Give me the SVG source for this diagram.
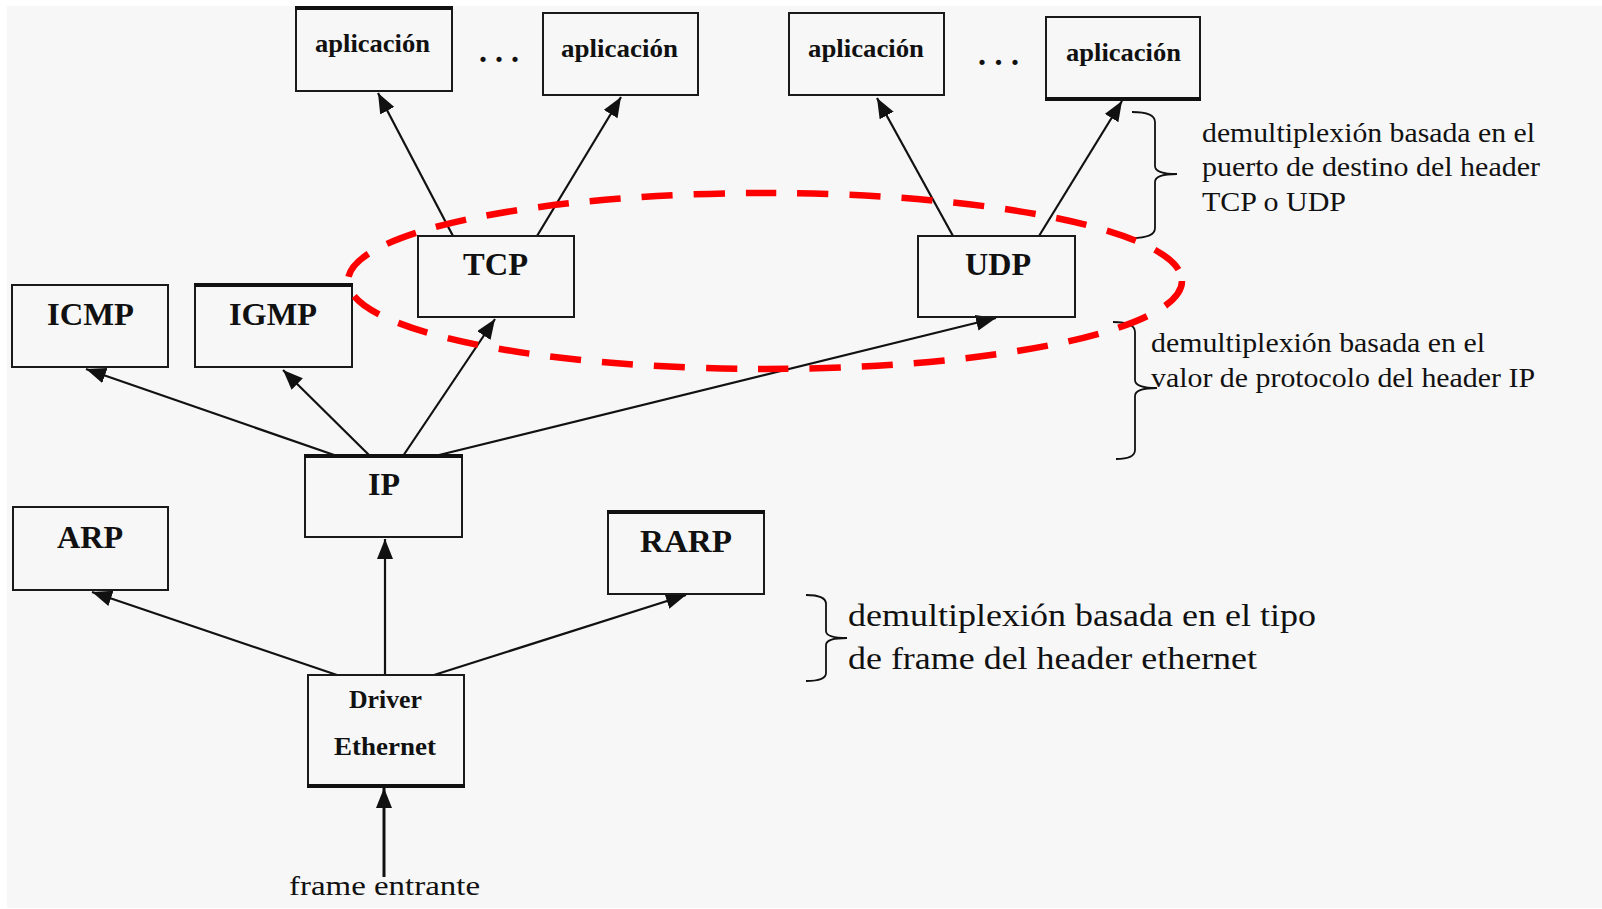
<svg xmlns="http://www.w3.org/2000/svg" width="1602" height="909" viewBox="0 0 1602 909">
<style>
.box{fill:none;stroke:#1a1a1a;stroke-width:2}
.thick{stroke:#111;stroke-width:4;fill:none}
.lbl{font-family:"Liberation Serif",serif;font-weight:bold;fill:#111}
.ann{font-family:"Liberation Serif",serif;fill:#111}
.conn{stroke:#111;stroke-width:2.2;fill:none;marker-end:url(#ah)}
.brace{stroke:#111;stroke-width:1.8;fill:none}
</style>
<defs>
<marker id="ah" markerUnits="userSpaceOnUse" markerWidth="22" markerHeight="18" refX="20" refY="8" orient="auto">
<path d="M0,0 L20,8 L0,16 Z" fill="#111"/>
</marker>
</defs>
<rect x="0" y="0" width="1602" height="909" fill="#ffffff"/>
<rect x="7" y="6" width="1595" height="902" fill="#f7f7f7"/>

<g id="connectors">
<line class="conn" x1="453" y1="236" x2="378" y2="93"/>
<line class="conn" x1="537" y1="236" x2="621" y2="97"/>
<line class="conn" x1="953" y1="236" x2="877" y2="98"/>
<line class="conn" x1="1039" y1="236" x2="1122" y2="101"/>
<line class="conn" x1="337" y1="456" x2="86" y2="369"/>
<line class="conn" x1="370" y1="456" x2="283" y2="370"/>
<line class="conn" x1="403" y1="456" x2="495" y2="319"/>
<line class="conn" x1="435" y1="456" x2="996" y2="318"/>
<line class="conn" x1="337" y1="675" x2="92" y2="592"/>
<line class="conn" x1="385" y1="675" x2="385" y2="539"/>
<line class="conn" x1="434" y1="675" x2="686" y2="595"/>
<line class="conn" style="stroke-width:3" x1="384" y1="877" x2="384" y2="788"/>
</g>

<g id="app1">
<rect class="box" x="296" y="8" width="156" height="83"/>
<line class="thick" x1="295" y1="8" x2="453" y2="8"/>
<text class="lbl" x="315" y="52" font-size="26" textLength="115" lengthAdjust="spacingAndGlyphs">aplicación</text>
</g>
<g id="dots1"><text class="lbl" x="479" y="62" font-size="32" textLength="40">...</text></g>
<g id="app2">
<rect class="box" x="543" y="13" width="155" height="82"/>
<text class="lbl" x="561" y="57" font-size="26" textLength="117" lengthAdjust="spacingAndGlyphs">aplicación</text>
</g>
<g id="app3">
<rect class="box" x="789" y="13" width="155" height="82"/>
<text class="lbl" x="808" y="57" font-size="26" textLength="116" lengthAdjust="spacingAndGlyphs">aplicación</text>
</g>
<g id="dots2"><text class="lbl" x="978" y="65" font-size="32" textLength="41">...</text></g>
<g id="app4">
<rect class="box" x="1046" y="17" width="154" height="82"/>
<line class="thick" x1="1045" y1="99" x2="1201" y2="99"/>
<text class="lbl" x="1066" y="61" font-size="26" textLength="115" lengthAdjust="spacingAndGlyphs">aplicación</text>
</g>
<g id="tcp">
<rect class="box" x="418" y="236" width="156" height="81"/>
<text class="lbl" x="463" y="275" font-size="32" textLength="65" lengthAdjust="spacingAndGlyphs">TCP</text>
</g>
<g id="udp">
<rect class="box" x="918" y="236" width="157" height="81"/>
<text class="lbl" x="965" y="275" font-size="32" textLength="66" lengthAdjust="spacingAndGlyphs">UDP</text>
</g>
<g id="icmp">
<rect class="box" x="12" y="285" width="156" height="82"/>
<text class="lbl" x="47" y="325" font-size="32" textLength="87" lengthAdjust="spacingAndGlyphs">ICMP</text>
</g>
<g id="igmp">
<rect class="box" x="195" y="285" width="157" height="82"/>
<line class="thick" x1="194" y1="285" x2="353" y2="285"/>
<text class="lbl" x="229" y="325" font-size="32" textLength="88" lengthAdjust="spacingAndGlyphs">IGMP</text>
</g>
<g id="ip">
<rect class="box" x="305" y="456" width="157" height="81"/>
<line class="thick" x1="304" y1="456" x2="463" y2="456"/>
<text class="lbl" x="368" y="495" font-size="32" textLength="32" lengthAdjust="spacingAndGlyphs">IP</text>
</g>
<g id="arp">
<rect class="box" x="13" y="507" width="155" height="83"/>
<text class="lbl" x="57" y="548" font-size="32" textLength="66" lengthAdjust="spacingAndGlyphs">ARP</text>
</g>
<g id="rarp">
<rect class="box" x="608" y="512" width="156" height="82"/>
<line class="thick" x1="607" y1="512" x2="765" y2="512"/>
<text class="lbl" x="640" y="552" font-size="32" textLength="92" lengthAdjust="spacingAndGlyphs">RARP</text>
</g>
<g id="driver">
<rect class="box" x="308" y="675" width="156" height="111"/>
<line class="thick" x1="307" y1="786" x2="465" y2="786"/>
<text class="lbl" x="349" y="708" font-size="26" textLength="73" lengthAdjust="spacingAndGlyphs">Driver</text>
<text class="lbl" x="334" y="755" font-size="26" textLength="102" lengthAdjust="spacingAndGlyphs">Ethernet</text>
</g>
<g id="frame">
<text class="ann" x="289" y="895" font-size="28" textLength="191" lengthAdjust="spacingAndGlyphs">frame entrante</text>
</g>

<g id="note-ports">
<path class="brace" d="M1132,112 Q1155,112 1155,122 L1155,166 Q1155,174 1177,174 Q1155,174 1155,182 L1155,228 Q1155,238 1132,238"/>
<text class="ann" x="1202" y="142" font-size="27" textLength="333" lengthAdjust="spacingAndGlyphs">demultiplexión basada en el</text>
<text class="ann" x="1202" y="176" font-size="27" textLength="338" lengthAdjust="spacingAndGlyphs">puerto de destino del header</text>
<text class="ann" x="1202" y="211" font-size="27" textLength="144" lengthAdjust="spacingAndGlyphs">TCP o UDP</text>
</g>
<g id="note-ip">
<path class="brace" d="M1113,322 Q1135,322 1135,332 L1135,380 Q1135,388 1157,388 Q1135,388 1135,396 L1135,450 Q1135,459 1116,459"/>
<text class="ann" x="1151" y="352" font-size="27" textLength="334" lengthAdjust="spacingAndGlyphs">demultiplexión basada en el</text>
<text class="ann" x="1151" y="387" font-size="27" textLength="384" lengthAdjust="spacingAndGlyphs">valor de protocolo del header IP</text>
</g>
<g id="note-eth">
<path class="brace" d="M806,595 Q826,595 826,604 L826,631 Q826,638 847,638 Q826,638 826,645 L826,673 Q826,681 806,681"/>
<text class="ann" x="848" y="626" font-size="31" textLength="468" lengthAdjust="spacingAndGlyphs">demultiplexión basada en el tipo</text>
<text class="ann" x="848" y="669" font-size="31" textLength="409" lengthAdjust="spacingAndGlyphs">de frame del header ethernet</text>
</g>

<g id="highlight">
<ellipse cx="765" cy="281" rx="417" ry="88" fill="none" stroke="#ff0000" stroke-width="6.5" stroke-dasharray="31 21"/>
</g>
</svg>
